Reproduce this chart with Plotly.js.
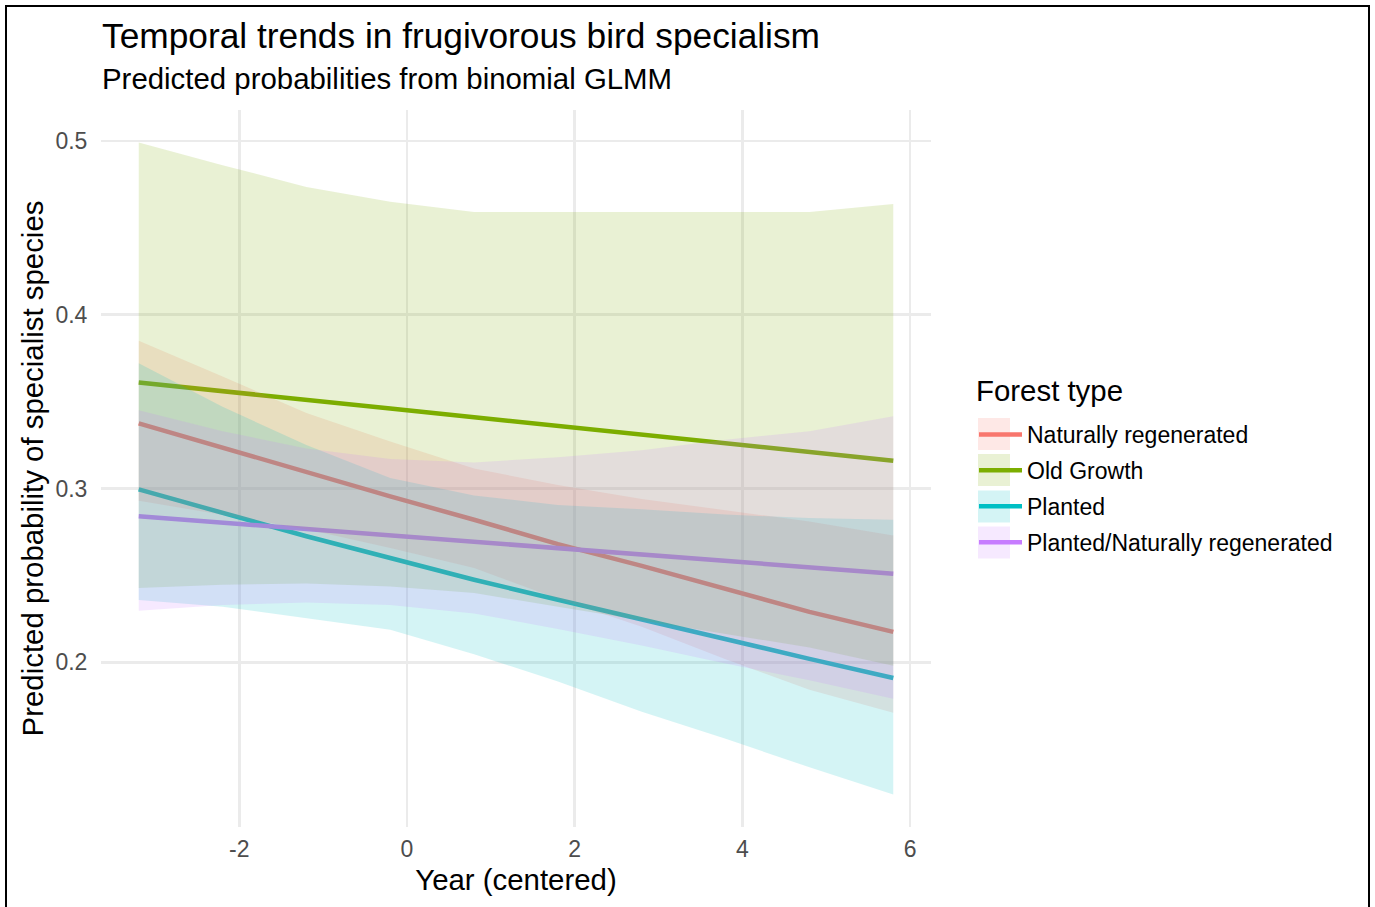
<!DOCTYPE html>
<html>
<head>
<meta charset="utf-8">
<script src="https://cdn.plot.ly/plotly-3.0.1.min.js"></script>
<style>
  html, body { margin: 0; padding: 0; background: #ffffff; }
  #chart { position: absolute; left: 0; top: 0; width: 1375px; height: 907px; }
  #frame { position: absolute; left: 5px; top: 5px; width: 1365px; height: 930px;
           border: 2px solid #000; box-sizing: border-box; pointer-events: none; }
</style>
</head>
<body>
<div id="chart"></div>
<div id="frame"></div>
<script>
// ---- data ----
const years = [-3.2, -2.2, -1.2, -0.2, 0.8, 1.8, 2.8, 3.8, 4.8, 5.8];

const forestTypes = ["Naturally regenerated", "Old Growth", "Planted", "Planted/Naturally regenerated"];

const natFit  = [0.3375, 0.3235, 0.309, 0.2955, 0.282, 0.268, 0.2555, 0.242, 0.229, 0.2175];
const natLow  = [0.293, 0.285, 0.2766, 0.2658, 0.2543, 0.2365, 0.2205, 0.2017, 0.1842, 0.171];
const natHigh = [0.385, 0.3645, 0.3434, 0.327, 0.3115, 0.302, 0.294, 0.2875, 0.281, 0.273];

const oldFit  = [0.361, 0.3562, 0.351, 0.346, 0.341, 0.336, 0.331, 0.326, 0.321, 0.316];
const oldLow  = [0.2427, 0.2446, 0.2454, 0.2436, 0.2399, 0.2319, 0.224, 0.2162, 0.2085, 0.198];
const oldHigh = [0.499, 0.486, 0.4735, 0.465, 0.459, 0.459, 0.459, 0.459, 0.459, 0.4637];

const plaFit  = [0.2995, 0.286, 0.2725, 0.26, 0.2475, 0.236, 0.2245, 0.2135, 0.202, 0.191];
const plaLow  = [0.2358, 0.232, 0.2256, 0.2188, 0.2046, 0.189, 0.1716, 0.156, 0.1396, 0.124];
const plaHigh = [0.372, 0.347, 0.325, 0.306, 0.296, 0.2905, 0.288, 0.285, 0.283, 0.282];

const mixFit  = [0.284, 0.2803, 0.2765, 0.273, 0.2693, 0.2657, 0.262, 0.2585, 0.2548, 0.251];
const mixLow  = [0.2296, 0.233, 0.2344, 0.233, 0.2281, 0.2192, 0.2097, 0.1993, 0.1897, 0.179];
const mixHigh = [0.345, 0.333, 0.323, 0.317, 0.315, 0.318, 0.322, 0.328, 0.333, 0.3415];

const xTicks = [-2, 0, 2, 4, 6];
const yTicks = [0.2, 0.3, 0.4, 0.5];
const yTickText = ["0.2", "0.3", "0.4", "0.5"];

// ---- styling ----
const lineColors = ["#F8766D", "#7CAE00", "#00BFC4", "#C77CFF"];
const fillColors = ["rgba(248,118,109,0.17)", "rgba(124,174,0,0.17)", "rgba(0,191,196,0.17)", "rgba(199,124,255,0.17)"];
const FONT = "Liberation Sans, Arial, Helvetica, sans-serif";

const fits = [natFit, oldFit, plaFit, mixFit];
const lows = [natLow, oldLow, plaLow, mixLow];
const highs = [natHigh, oldHigh, plaHigh, mixHigh];

const traces = [];
// lines first (ribbons are drawn over them, as in the reference)
forestTypes.forEach((name, i) => {
  traces.push({
    type: "scatter", mode: "lines", name: name, legendgroup: name,
    x: years, y: fits[i],
    line: { color: lineColors[i], width: 4.5 },
    hoverinfo: "skip"
  });
});
forestTypes.forEach((name, i) => {
  const xs = years.concat(years.slice().reverse());
  const ys = highs[i].concat(lows[i].slice().reverse());
  traces.push({
    type: "scatter", mode: "lines", name: name + " CI", legendgroup: name,
    showlegend: false, fill: "toself", fillcolor: fillColors[i],
    x: xs, y: ys, line: { width: 0, color: "rgba(0,0,0,0)" },
    hoverinfo: "skip"
  });
});

// legend key boxes (ggplot style)
const legendBoxes = [];
const boxTops = [418, 454, 490.5, 526.5];
boxTops.forEach((top, i) => {
  legendBoxes.push({
    type: "rect", xref: "paper", yref: "paper", layer: "below",
    x0: (978 - 101) / 830, x1: (1010 - 101) / 830,
    y0: 1 - (top - 110) / 717, y1: 1 - (top + 32 - 110) / 717,
    fillcolor: fillColors[i], line: { width: 0 }
  });
});

const layout = {
  width: 1375, height: 907,
  margin: { l: 101, r: 444, t: 110, b: 80 },
  paper_bgcolor: "#ffffff", plot_bgcolor: "#ffffff",
  font: { family: FONT, color: "#000000" },
  title: {
    text: "Temporal trends in frugivorous bird specialism",
    font: { size: 35.3, color: "#000000", family: FONT },
    x: 102 / 1375, xanchor: "left", xref: "container",
    y: 1 - 36 / 907, yanchor: "middle", yref: "container"
  },
  annotations: [{
    text: "Predicted probabilities from binomial GLMM",
    xref: "paper", yref: "paper", x: (100 - 101) / 830, xanchor: "left",
    y: 1 + (110 - 79) / 717, yanchor: "middle", showarrow: false,
    font: { size: 29.4, color: "#000000", family: FONT }
  }, {
    text: "Forest type",
    xref: "paper", yref: "paper", x: (974 - 101) / 830, xanchor: "left",
    y: 1 - (390 - 110) / 717, yanchor: "middle", showarrow: false,
    font: { size: 29.4, color: "#000000", family: FONT }
  }],
  xaxis: {
    range: [-3.65, 6.25], tickvals: xTicks, ticktext: xTicks.map(String),
    showgrid: true, gridcolor: "#EBEBEB", gridwidth: 2.5, zeroline: false, showline: false,
    ticks: "outside", ticklen: 1, tickcolor: "rgba(0,0,0,0)",
    tickfont: { size: 23, color: "#4D4D4D", family: FONT },
    title: { text: "Year (centered)", font: { size: 29.4, color: "#000000", family: FONT }, standoff: 8 }
  },
  yaxis: {
    range: [0.10525, 0.51775], tickvals: yTicks, ticktext: yTickText,
    showgrid: true, gridcolor: "#EBEBEB", gridwidth: 2.5, zeroline: false, showline: false,
    ticks: "outside", ticklen: 8, tickcolor: "rgba(0,0,0,0)",
    tickfont: { size: 23, color: "#4D4D4D", family: FONT },
    title: { text: "Predicted probability of specialist species", font: { size: 29.4, color: "#000000", family: FONT }, standoff: 3 }
  },
  legend: {
    x: (974 - 101) / 830, xanchor: "left", xref: "paper",
    y: 1 - (413 - 110) / 717, yanchor: "top", yref: "paper",
    font: { size: 23, color: "#000000", family: FONT },
    bgcolor: "rgba(0,0,0,0)", borderwidth: 0, tracegroupgap: 3, itemwidth: 43
  },
  shapes: legendBoxes,
  showlegend: true
};

Plotly.newPlot("chart", traces, layout, { displayModeBar: false, staticPlot: true });
</script>
</body>
</html>
